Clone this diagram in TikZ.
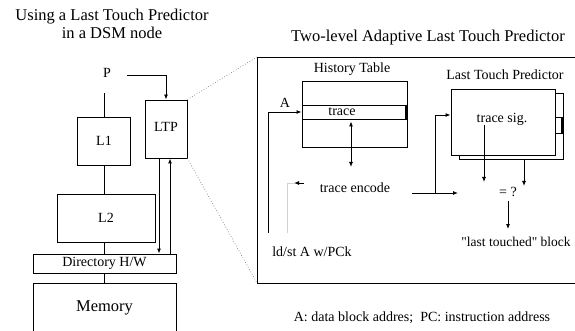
\documentclass[tikz,border=0pt]{standalone}
\usepackage{fontspec}
\setmainfont{Liberation Serif}
\usetikzlibrary{arrows.meta,calc}

\begin{document}
\begin{tikzpicture}[x=1pt,y=-1pt, every node/.style={font=\fontsize{14}{16}\selectfont,inner sep=0pt}, box/.style={draw,line width=0.9pt,fill=white,inner sep=0pt}, ln/.style={line width=0.9pt}, arr/.style={-{Latex[length=5pt,width=4pt]},line width=0.9pt}, dbl/.style={{Latex[length=5pt,width=4pt]}-{Latex[length=5pt,width=4pt]},line width=0.9pt}, zoomln/.style={gray,dotted,line width=0.7pt}, big/.style={font=\fontsize{16.5}{18}\selectfont}]
\useasboundingbox (0,0) rectangle (575,331);
% left: the DSM node
\node[big,align=center] (ttlL) at (112,24) {Using a Last Touch Predictor\\in a DSM node};
\node (p) at (107,73) {P};
\coordinate (ptop) at (104,93);
\coordinate (pout) at (127,75);
\node[box,minimum width=53pt,minimum height=48pt] (l1) at (104,141) {L1};
\node[box,minimum width=98pt,minimum height=48pt] (l2) at (106,218) {L2};
\node[box,minimum width=42pt,minimum height=58pt] (ltp) at (166,129) {\raisebox{4pt}{LTP}};
\node[box,minimum width=143pt,minimum height=19pt] (dir) at (104.5,263.5) {Directory H/W};
\node[box,minimum width=143pt,minimum height=50pt,font=\fontsize{16.5}{18}\selectfont] (mem) at (104.5,308) {Memory};
\draw[ln] (ptop) -- (l1.north);
\draw[ln] (l1.south) -- (l1.south |- l2.north);
\draw[ln] (l1.south |- l2.south) -- (l1.south |- dir.north);
\draw[ln] (l1.south |- dir.south) -- (l1.south |- mem.north);
\draw[arr] (pout) -| (ltp.north);
\draw[arr] ([xshift=-7pt]ltp.south) -- ([xshift=-7pt]ltp.south |- dir.north);
\draw[arr] ([xshift=4pt]ltp.south |- dir.north) -- ([xshift=4pt]ltp.south);
% zoom frame
\coordinate (fnw) at (257,57);
\coordinate (fsw) at (257,283);
\draw[ln] (578,57) -- (fnw) -- (fsw) -- (578,283);
\draw[zoomln] (ltp.north east) -- (fnw);
\draw[zoomln] (ltp.south east) -- (fsw);
% right: two-level predictor
\node[big] (ttlR) at (428,38) {Two-level Adaptive Last Touch Predictor};
\node (htl) at (352,69) {History Table};
\node[box,minimum width=105pt,minimum height=66pt] (ht) at (354.5,114) {};
\node[box,minimum width=105pt,minimum height=14pt] (trow) at (354.5,112) {};
\node (trtxt) at (342,112) {trace};
\draw[line width=2pt] ([xshift=-1.5pt]trow.north east) -- ([xshift=-1.5pt]trow.south east);
\node (a) at (285,103) {A};
\coordinate (ldst) at (268,233);
\draw[arr] (ldst) |- (trow.west);
\node (ldsttxt) at (312,252) {ld/st A w/PCk};
\coordinate (encin) at (351,167);
\draw[dbl,shorten <=2pt] ([xshift=-3.5pt]trow.south) -- (encin);
\node (enc) at (355,188) {trace encode};
\coordinate (fb) at (287,233);
\coordinate (fk) at (304,183);
\draw[gray!35,line width=0.6pt] (fb) |- (295,183);
\draw[arr] (fk) -- ++(-10,0);
\coordinate (eout) at (412,193);
\coordinate (br) at (435,193);
\coordinate (cmpin) at (458,193);
\node (ltpl) at (505,75) {Last Touch Predictor};
\node[box,minimum width=104pt,minimum height=66pt] (ltpb) at (511,126) {};
\draw[ln] (555,117) -- (563,117);
\draw[ln] (555,133) -- (563,133);
\draw[line width=2pt] (562,117) -- (562,133);
\node[box,minimum width=104pt,minimum height=66pt] (ltpf) at (503,122) {};
\node (sig) at (502,119) {trace sig.};
\draw[ln] (eout) -- (br);
\draw[arr] (br) -- (cmpin);
\draw[arr] (br) |- ([yshift=7pt]ltpf.west);
\coordinate (q1) at (484,182);
\coordinate (q2) at (524,186);
\draw[arr] (sig.south -| q1) -- (q1);
\draw[arr] (q2 |- ltpb.south) -- (q2);
\node (eq) at (508,192) {= ?};
\node[font=\fontsize{13.5}{16}\selectfont] (blk) at (516,242) {\textquotedbl last touched\textquotedbl\ block};
\draw[arr] ([yshift=-4pt]eq.south) -- ([yshift=8pt]eq.south |- blk.north);
\node (foot) at (422,318) {A: data block addres;\ \ PC: instruction address};
\end{tikzpicture}
\end{document}
